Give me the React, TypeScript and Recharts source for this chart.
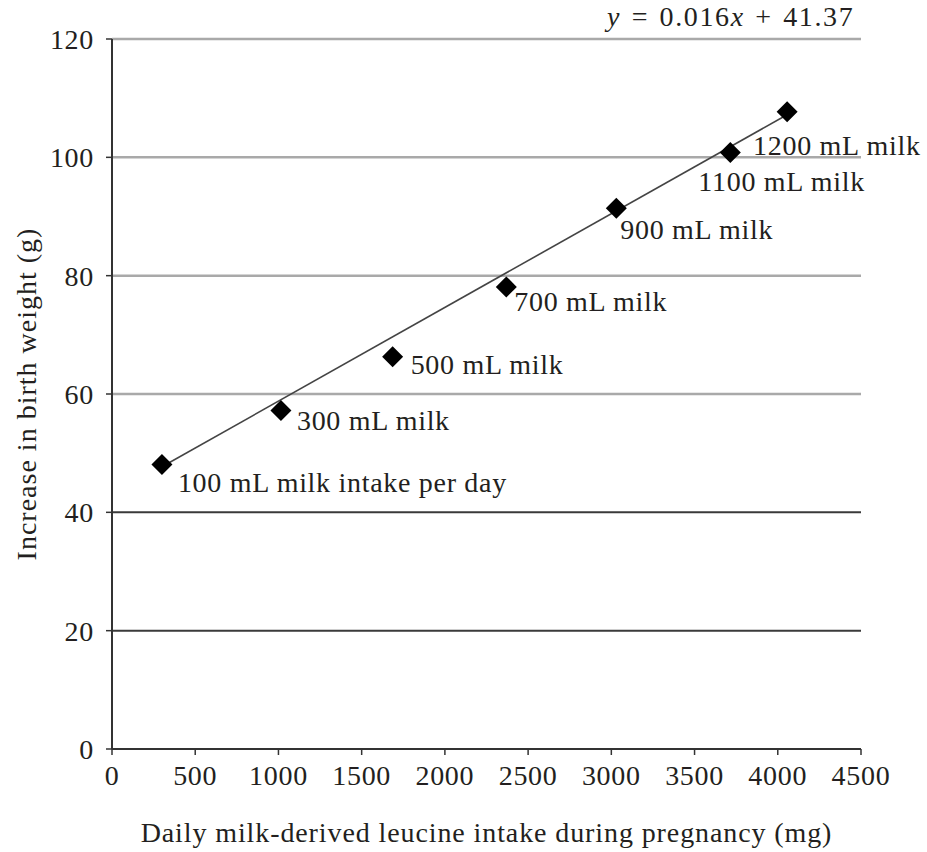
import React from 'react';
import {
  ScatterChart,
  Scatter,
  XAxis,
  YAxis,
  ReferenceLine,
} from 'recharts';

// leucine intake (mg) vs. increase in birth weight (g)
const leucineMg = [300, 1015, 1686, 2369, 3030, 3715, 4056];
const weightGain = [48.1, 57.2, 66.3, 78.1, 91.4, 100.8, 107.7];
const milkLabels = [
  '100 mL milk intake per day',
  '300 mL milk',
  '500 mL milk',
  '700 mL milk',
  '900 mL milk',
  '1100 mL milk',
  '1200 mL milk',
];

// fitted line, endpoints
const trendX = [300, 4056];
const trendY = [47.7, 107.2];

const xTicks = [0, 500, 1000, 1500, 2000, 2500, 3000, 3500, 4000, 4500];
const yTicks = [0, 20, 40, 60, 80, 100, 120];
const grayGrid = [60, 80, 100, 120];
const darkGrid = [20, 40];

// where each label sits relative to its marker (dx, dy)
const labelOffsets = [
  [16, 18],
  [16, 10],
  [18, 8],
  [8, 15],
  [4, 21],
  [-32, 29],
  [-34, 34],
];

const FONT = '"Liberation Serif", "Times New Roman", serif';
const INK = '#231f20';
const TXT = { fontFamily: FONT, fontSize: 28, fill: INK, letterSpacing: 0.7 };

const points = leucineMg.map((x, i) => ({
  x,
  y: weightGain[i],
  label: milkLabels[i],
  idx: i,
}));
const trend = trendX.map((x, i) => ({ x, y: trendY[i] }));

// black diamond + its label to the lower right
function Diamond(props: any) {
  const { cx, cy, payload } = props;
  const r = 10.5;
  const [dx, dy] = labelOffsets[payload.idx] ?? [10, 10];
  return (
    <g>
      <polygon
        points={`${cx},${cy - r} ${cx + r},${cy} ${cx},${cy + r} ${cx - r},${cy}`}
        fill="#000"
      />
      <text x={cx + dx} y={cy + dy} dominantBaseline="central" {...TXT}>
        {payload.label}
      </text>
    </g>
  );
}

export default function App() {
  return (
    <div style={{ position: 'absolute', left: 0, top: 0, width: 927, height: 852, background: '#fff' }}>
      <ScatterChart
        width={927}
        height={852}
        margin={{ top: 39, right: 66, bottom: 0, left: 0 }}
      >
        <XAxis
          type="number"
          dataKey="x"
          domain={[0, 4500]}
          ticks={xTicks}
          interval={0}
          height={103}
          axisLine={{ stroke: '#333', strokeWidth: 2 }}
          tickLine={{ stroke: '#333', strokeWidth: 1.5 }}
          tickSize={6}
          tickMargin={10}
          tick={TXT}
          label={{
            value: 'Daily milk-derived leucine intake during pregnancy  (mg)',
            position: 'insideBottom',
            offset: 10,
            style: { ...TXT, letterSpacing: 0.9 },
          }}
        />
        <YAxis
          type="number"
          dataKey="y"
          domain={[0, 120]}
          ticks={yTicks}
          interval={0}
          width={112}
          axisLine={{ stroke: '#333', strokeWidth: 2 }}
          tickLine={{ stroke: '#333', strokeWidth: 1.5 }}
          tickSize={6}
          tickMargin={12}
          tick={TXT}
          label={{
            value: 'Increase in birth weight  (g)',
            angle: -90,
            position: 'insideLeft',
            offset: 26,
            style: { ...TXT, letterSpacing: 1, textAnchor: 'middle' },
          }}
        />
        {grayGrid.map((v) => (
          <ReferenceLine key={`g${v}`} y={v} stroke="#a9a9a9" strokeWidth={2.5} />
        ))}
        {darkGrid.map((v) => (
          <ReferenceLine key={`d${v}`} y={v} stroke="#3a3a3a" strokeWidth={2} />
        ))}
        <Scatter
          data={trend}
          line={{ stroke: '#444', strokeWidth: 1.6 }}
          shape={() => <g />}
          isAnimationActive={false}
        />
        <Scatter data={points} shape={Diamond} isAnimationActive={false} />
      </ScatterChart>
      <div
        style={{
          position: 'absolute',
          left: 607,
          top: 1,
          fontFamily: FONT,
          fontSize: 28,
          letterSpacing: 1.6,
          wordSpacing: 2,
          color: INK,
          whiteSpace: 'nowrap',
          lineHeight: '32px',
        }}
      >
        <i>y</i> = 0.016<i>x</i> + 41.37
      </div>
    </div>
  );
}
